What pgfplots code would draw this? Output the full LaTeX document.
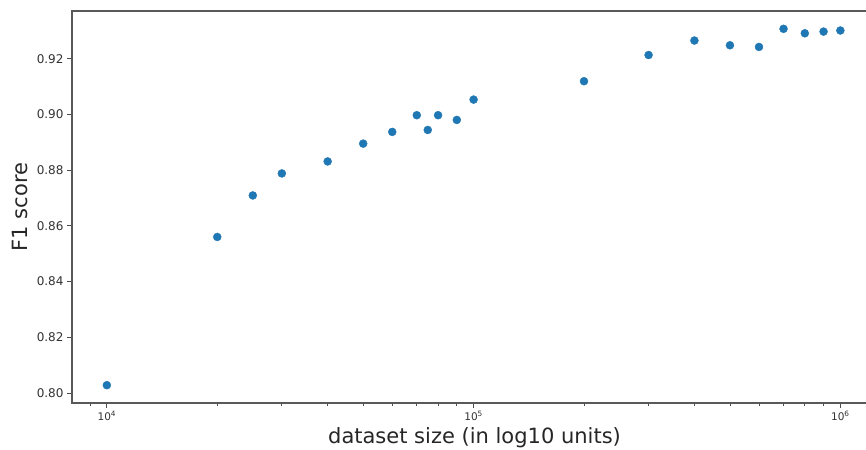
\documentclass[border=0pt]{standalone}
\usepackage{fontspec}
\setmainfont{DejaVu Sans}
\usepackage{pgfplots}
\pgfplotsset{compat=1.18}
\definecolor{mplblue}{HTML}{1F77B4}
\begin{document}
\begin{tikzpicture}
\useasboundingbox (-72bp,-47bp) rectangle (794bp,403bp);
\begin{axis}[
  at={(0,0)}, anchor=south west,
  scale only axis, width=805bp, height=392bp,
  xmode=log, xmin=8035, xmax=1258925,
  ymin=0.7964, ymax=0.9371,
  axis line style={black!65, line width=1.2bp},
  tick pos=left, tick align=outside,
  major tick length=5bp, minor tick length=3bp,
  every tick/.style={black!70, line width=0.8bp},
  xtick={10000,100000,1000000},
  xticklabels={10\textsuperscript{4},10\textsuperscript{5},10\textsuperscript{6}},
  minor xtick={9000,20000,30000,40000,50000,60000,70000,80000,90000,200000,300000,400000,500000,600000,700000,800000,900000},
  ytick={0.80,0.82,0.84,0.86,0.88,0.90,0.92},
  yticklabel style={font=\fontsize{12bp}{14bp}\selectfont, text=black!80, /pgf/number format/.cd, fixed, fixed zerofill, precision=2, assume math mode=true},
  xticklabel style={font=\fontsize{10.5bp}{12bp}\selectfont, text=black!80},
  xlabel={dataset size (in log10 units)},
  ylabel={F1 score},
  every axis x label/.style={at={(axis description cs:0.5,-0.0893)}, anchor=center, font=\fontsize{21bp}{25bp}\selectfont, text=black!85},
  every axis y label/.style={at={(axis description cs:-0.0646,0.5)}, anchor=center, rotate=90, font=\fontsize{21bp}{25bp}\selectfont, text=black!85},
]
\addplot[only marks, mark=*, mark size=4bp, mark options={fill=mplblue, draw=mplblue}] coordinates {
  (10000,0.8028)
  (20000,0.8560)
  (25000,0.8709)
  (30000,0.8788)
  (40000,0.8831)
  (50000,0.8895)
  (60000,0.8937)
  (70000,0.8997)
  (75000,0.8944)
  (80000,0.8997)
  (90000,0.8980)
  (100000,0.9053)
  (200000,0.9119)
  (300000,0.9213)
  (400000,0.9265)
  (500000,0.9248)
  (600000,0.9242)
  (700000,0.9307)
  (800000,0.9291)
  (900000,0.9297)
  (1000000,0.9301)
};
\end{axis}
\end{tikzpicture}
\end{document}
